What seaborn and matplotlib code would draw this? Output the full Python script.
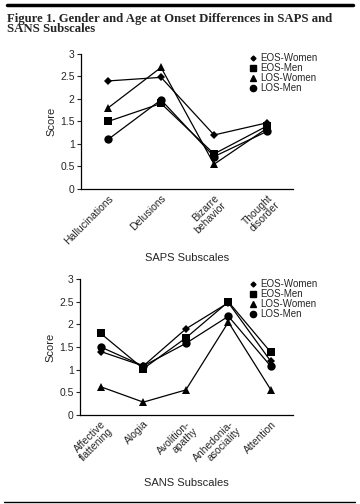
import matplotlib
matplotlib.use("Agg")
import matplotlib.pyplot as plt
from matplotlib.lines import Line2D
import seaborn as sns
import pandas as pd

groups = ["EOS-Women", "EOS-Men", "LOS-Women", "LOS-Men"]
markers = {"EOS-Women": "D", "EOS-Men": "s", "LOS-Women": "^", "LOS-Men": "o"}
msizes = {"EOS-Women": 4, "EOS-Men": 5.5, "LOS-Women": 5.5, "LOS-Men": 6}

saps_labels = ["Hallucinations", "Delusions", "Bizarre\nbehavior", "Thought\ndisorder"]
saps_eos_women = [2.4, 2.48, 1.2, 1.47]
saps_eos_men = [1.5, 1.9, 0.78, 1.4]
saps_los_women = [1.8, 2.7, 0.55, 1.35]
saps_los_men = [1.1, 1.98, 0.72, 1.28]

sans_labels = ["Affective\nflattening", "Alogia", "Avolition-\napathy",
               "Anhedonia-\nasociality", "Attention"]
sans_eos_women = [1.4, 1.08, 1.9, 2.48, 1.18]
sans_eos_men = [1.8, 1.02, 1.7, 2.5, 1.38]
sans_los_women = [0.62, 0.28, 0.55, 2.05, 0.55]
sans_los_men = [1.5, 1.08, 1.58, 2.18, 1.07]


def long_df(labels, series):
    rows = []
    for g, vals in zip(groups, series):
        for i, v in enumerate(vals):
            rows.append({"pos": i, "group": g, "score": v})
    return pd.DataFrame(rows)


sns.set_style("ticks")
plt.rcParams["font.family"] = ["Liberation Sans", "DejaVu Sans"]

fig = plt.figure(figsize=(3.6, 5.04), dpi=100)
ax1 = fig.add_axes([0.225, 0.625, 0.589, 0.268])
ax2 = fig.add_axes([0.222, 0.177, 0.592, 0.269])


def draw(ax, labels, series, xlab, lo, hi, legend_y):
    df = long_df(labels, series)
    for g in groups:
        sub = df[df.group == g]
        sns.lineplot(data=sub, x="pos", y="score", ax=ax, color="black",
                     marker=markers[g], markersize=msizes[g], markeredgewidth=0,
                     linewidth=0.9, legend=False)
    ax.set_xlim(lo, hi)
    ax.set_ylim(0, 3)
    ax.set_yticks([0, 0.5, 1, 1.5, 2, 2.5, 3])
    ax.set_yticklabels(["0", "0.5", "1", "1.5", "2", "2.5", "3"])
    ax.set_xticks(range(len(labels)))
    ax.set_xticklabels(labels, rotation=45, ha="right", rotation_mode="anchor",
                       fontsize=7.5, linespacing=1.0)
    ax.tick_params(axis="y", labelsize=7.5, length=3, width=0.8, pad=1.5)
    ax.tick_params(axis="x", length=0, pad=3)
    ax.set_ylabel("Score", fontsize=8, labelpad=3)
    ax.set_xlabel(xlab, fontsize=8, labelpad=5)
    sns.despine(ax=ax)
    for s in ["left", "bottom"]:
        ax.spines[s].set_linewidth(0.9)
        ax.spines[s].set_color("black")
    handles = [Line2D([], [], color="black", marker=markers[g], linestyle="none",
                      markersize=msizes[g] - 1.5) for g in groups]
    fig.legend(handles, groups, loc="upper left", bbox_to_anchor=(0.695, legend_y),
               frameon=False, fontsize=7, handlelength=0.6, handletextpad=0.4,
               labelspacing=0.0, borderaxespad=0, borderpad=0)


draw(ax1, saps_labels, [saps_eos_women, saps_eos_men, saps_los_women, saps_los_men],
     "SAPS Subscales", -0.51, 3.49, 0.895)
draw(ax2, sans_labels, [sans_eos_women, sans_eos_men, sans_los_women, sans_los_men],
     "SANS Subscales", -0.49, 4.52, 0.446)

fig.text(0.02, 0.975, "Figure 1. Gender and Age at Onset Differences in SAPS and\nSANS Subscales",
         family=["Liberation Serif", "DejaVu Serif"], weight="bold", fontsize=9.2,
         va="top", ha="left", linespacing=0.85)
fig.add_artist(Line2D([0.02, 0.98], [0.99, 0.99], color="black", linewidth=2.5))
fig.add_artist(Line2D([0.01, 0.985], [0.003, 0.003], color="black", linewidth=1))

fig.savefig("out.png", dpi=100)
